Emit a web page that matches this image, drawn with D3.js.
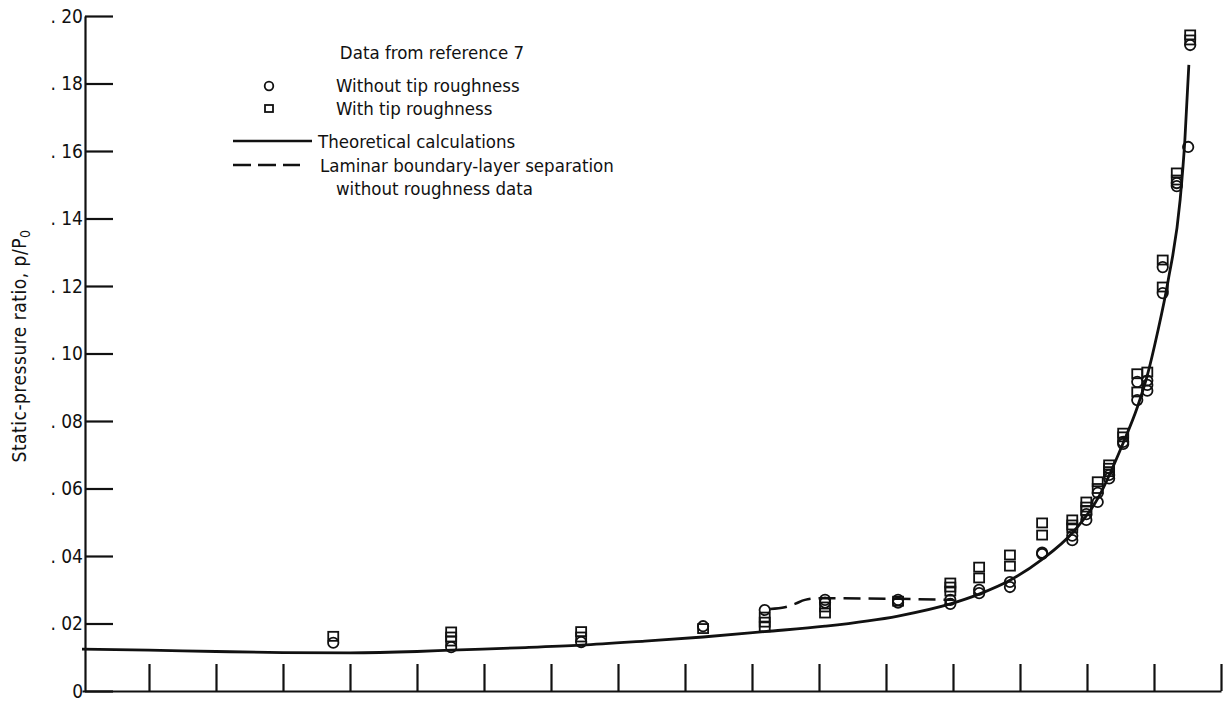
<!DOCTYPE html>
<html>
<head>
<meta charset="utf-8">
<script src="https://cdn.jsdelivr.net/npm/d3@7"></script>
<style>
  html, body { margin: 0; padding: 0; background: #fff; }
  svg { display: block; }
  text { font-family: "DejaVu Sans Condensed", "Liberation Sans Narrow", "DejaVu Sans", sans-serif; font-stretch: condensed; fill: #111; }
</style>
</head>
<body>
<div id="chart"></div>
<script>
// tick values
const yTicks = [0, 0.02, 0.04, 0.06, 0.08, 0.10, 0.12, 0.14, 0.16, 0.18, 0.20];
const xTicks = [1, 2, 3, 4, 5, 6, 7, 8, 9, 10, 11, 12, 13, 14, 15, 16, 17];

// data from reference 7, without tip roughness (circles)
const circleX = [3.75, 5.51, 7.45, 9.27, 10.19, 11.09, 11.09, 12.18, 12.18, 12.96, 12.96, 13.39, 13.39, 13.85, 13.85,
  14.33, 14.33, 14.78, 14.78, 14.99, 14.99, 15.16, 15.16, 15.33, 15.33, 15.54, 15.54, 15.75, 15.75,
  15.90, 15.90, 15.90, 16.13, 16.13, 16.34, 16.34, 16.51, 16.54];
const circleY = [0.0143, 0.0130, 0.0145, 0.0192, 0.0240, 0.0270, 0.0262, 0.0270, 0.0262, 0.0270, 0.0258, 0.0300, 0.0290, 0.0323, 0.0308,
  0.0410, 0.0406, 0.0460, 0.0447, 0.0524, 0.0507, 0.0587, 0.0560, 0.0640, 0.0630, 0.0738, 0.0732, 0.0916, 0.0862,
  0.0920, 0.0907, 0.0890, 0.1256, 0.1179, 0.1505, 0.1496, 0.1612, 0.1914];

// with tip roughness (squares)
const squareX = [3.75, 5.51, 5.51, 5.51, 7.45, 7.45, 9.27, 10.19, 10.19, 10.19, 11.09, 11.09, 12.18, 12.96, 12.96, 12.96,
  13.39, 13.39, 13.85, 13.85, 14.33, 14.33, 14.78, 14.78, 14.78, 14.99, 14.99, 14.99, 15.16, 15.16,
  15.33, 15.33, 15.33, 15.54, 15.54, 15.75, 15.75, 15.90, 16.13, 16.13, 16.34, 16.34, 16.54, 16.54];
const squareY = [0.0162, 0.0175, 0.0160, 0.0148, 0.0176, 0.0160, 0.0185, 0.0219, 0.0204, 0.0190, 0.0249, 0.0231, 0.0266, 0.0320, 0.0308, 0.0296,
  0.0367, 0.0335, 0.0403, 0.0370, 0.0498, 0.0462, 0.0507, 0.0492, 0.0483, 0.0560, 0.0545, 0.0535, 0.0620, 0.0600,
  0.0670, 0.0660, 0.0650, 0.0764, 0.0753, 0.0940, 0.0886, 0.0945, 0.1277, 0.1197, 0.1535, 0.1514, 0.1944, 0.1929];

// theoretical calculations (solid)
const theoryX = [0, 1, 2, 3, 4, 5, 5.51, 6.5, 7.45, 8.4, 9.27, 10.19, 11.09, 12.18, 12.96, 13.39, 13.85,
  14.33, 14.78, 15.16, 15.54, 15.75, 15.90, 16.05, 16.21, 16.39, 16.46, 16.52];
const theoryY = [0.0124, 0.0121, 0.0117, 0.0114, 0.0113, 0.0117, 0.0121, 0.0128, 0.0136, 0.0148, 0.0160, 0.0176, 0.0192, 0.0222, 0.0258, 0.0287, 0.0328,
  0.0390, 0.0468, 0.0570, 0.0735, 0.0840, 0.0935, 0.1060, 0.1215, 0.1455, 0.1630, 0.1855];

// laminar boundary-layer separation (dashed)
const sepX = [10.27, 10.49, 10.64, 10.79, 11.01, 12.21, 13.0];
const sepY = [0.0243, 0.0248, 0.0258, 0.0270, 0.0275, 0.0273, 0.0270];

const W = 1226, H = 708;

const svg = d3.select("#chart").append("svg")
  .attr("width", W)
  .attr("height", H);

// scales
const x = d3.scaleLinear().domain([0, 17]).range([82, 1221]);
const y = d3.scaleLinear().domain([0, 0.20]).range([691, 16]);

// x axis, ticks pointing up, no labels
const xAxisG = svg.append("g")
  .attr("transform", `translate(0,${y(0)})`)
  .call(d3.axisBottom(x).tickValues(xTicks).tickSizeInner(-27).tickSizeOuter(0).tickFormat(""));

// y axis, ticks pointing in
const yAxisG = svg.append("g")
  .attr("transform", `translate(${x(0) + 3},0)`)
  .call(d3.axisLeft(y).tickValues(yTicks).tickSizeInner(-28).tickSizeOuter(0).tickPadding(2)
    .tickFormat(d => d === 0 ? "0" : ". " + d3.format(".2f")(d).slice(2)));

[xAxisG, yAxisG].forEach(g => {
  g.selectAll("path, line").attr("stroke", "#111").attr("stroke-width", 2.2);
  g.selectAll("text").attr("font-size", 19).attr("fill", "#111");
});

// y axis title
const yTitle = svg.append("text")
  .attr("transform", `translate(26,346) rotate(-90)`)
  .attr("text-anchor", "middle")
  .attr("font-size", 19)
  .attr("letter-spacing", 0.5);
yTitle.append("tspan").text("Static-pressure ratio,  p/P");
yTitle.append("tspan").attr("baseline-shift", "-25%").attr("font-size", 14).text("0");

// theoretical line
const line = d3.line().x(d => x(d[0])).y(d => y(d[1])).curve(d3.curveMonotoneX);

svg.append("path")
  .datum(theoryX.map((v, i) => [v, theoryY[i]]))
  .attr("d", line)
  .attr("fill", "none")
  .attr("stroke", "#111")
  .attr("stroke-width", 2.8);

svg.append("path")
  .datum(sepX.map((v, i) => [v, sepY[i]]))
  .attr("d", line)
  .attr("fill", "none")
  .attr("stroke", "#111")
  .attr("stroke-width", 2.5)
  .attr("stroke-dasharray", "17,8");

// markers
svg.selectAll(".sq")
  .data(squareX.map((v, i) => [v, squareY[i]]))
  .enter().append("rect")
  .attr("class", "sq")
  .attr("x", d => x(d[0]) - 5)
  .attr("y", d => y(d[1]) - 4.5)
  .attr("width", 10)
  .attr("height", 9)
  .attr("fill", "none")
  .attr("stroke", "#111")
  .attr("stroke-width", 1.8);

svg.selectAll(".ci")
  .data(circleX.map((v, i) => [v, circleY[i]]))
  .enter().append("circle")
  .attr("class", "ci")
  .attr("cx", d => x(d[0]))
  .attr("cy", d => y(d[1]))
  .attr("r", 5.2)
  .attr("fill", "none")
  .attr("stroke", "#111")
  .attr("stroke-width", 1.8);

// legend
const fs = 18.5;
const leg = svg.append("g");
leg.append("text").attr("x", 432).attr("y", 59).attr("text-anchor", "middle")
  .attr("font-size", fs).text("Data from reference 7");
leg.append("circle").attr("cx", 269).attr("cy", 86).attr("r", 4.3)
  .attr("fill", "none").attr("stroke", "#111").attr("stroke-width", 1.8);
leg.append("text").attr("x", 336).attr("y", 92).attr("font-size", fs).text("Without tip roughness");
leg.append("rect").attr("x", 265).attr("y", 105).attr("width", 8).attr("height", 7)
  .attr("fill", "none").attr("stroke", "#111").attr("stroke-width", 1.8);
leg.append("text").attr("x", 336).attr("y", 115).attr("font-size", fs).text("With tip roughness");
leg.append("line").attr("x1", 233).attr("x2", 312).attr("y1", 141).attr("y2", 141)
  .attr("stroke", "#111").attr("stroke-width", 2.5);
leg.append("text").attr("x", 318).attr("y", 148).attr("font-size", fs).text("Theoretical calculations");
leg.append("line").attr("x1", 233).attr("x2", 300).attr("y1", 165).attr("y2", 165)
  .attr("stroke", "#111").attr("stroke-width", 2.5).attr("stroke-dasharray", "18,7");
leg.append("text").attr("x", 320).attr("y", 172).attr("font-size", fs).text("Laminar boundary-layer separation");
leg.append("text").attr("x", 336).attr("y", 195).attr("font-size", fs).text("without roughness data");
</script>
</body>
</html>
